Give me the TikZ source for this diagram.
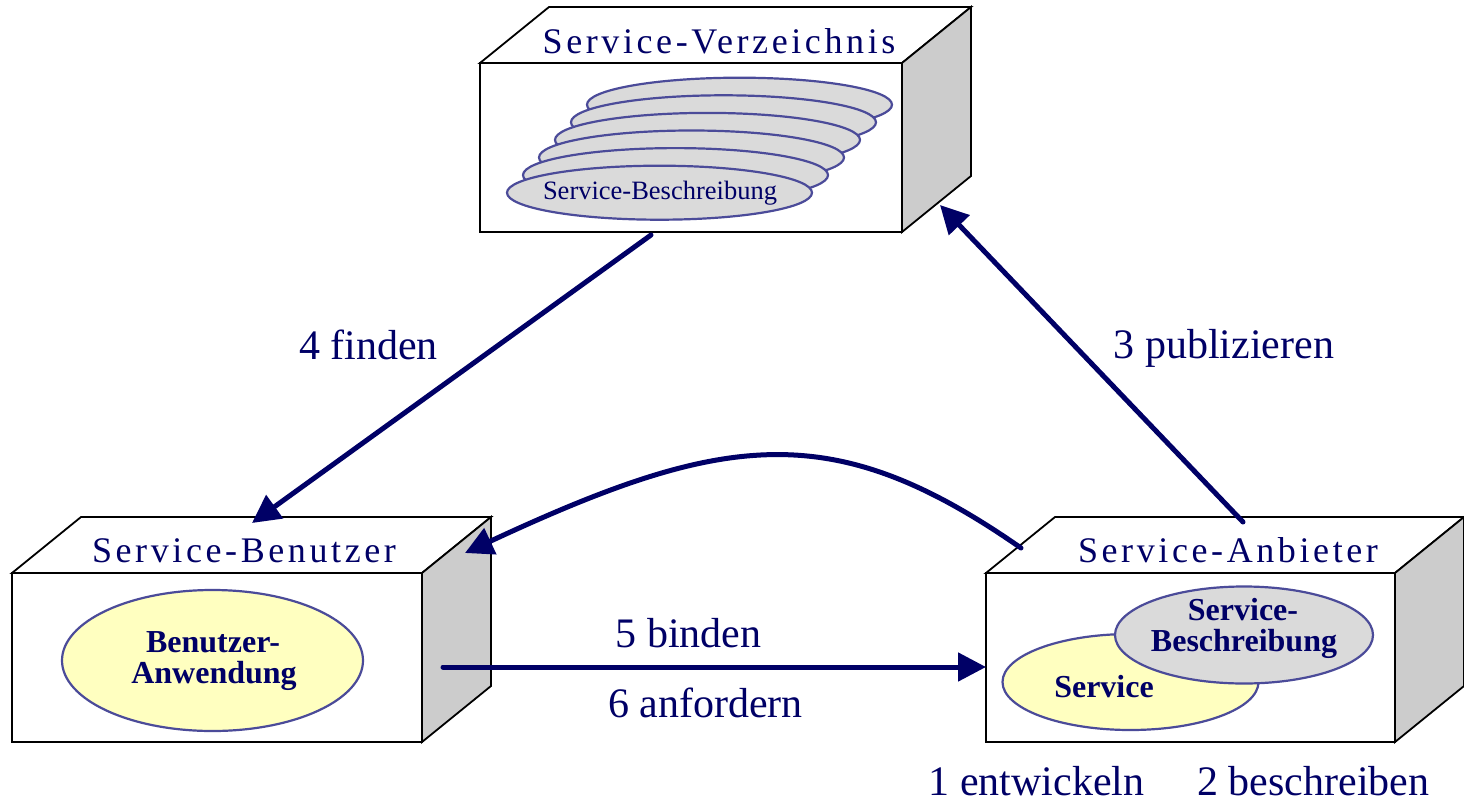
\documentclass[tikz,border=0pt]{standalone}
\usepackage{fontspec}
\setmainfont{Liberation Serif}
\newfontfamily\trackedfont[LetterSpace=10]{Liberation Serif}
\usetikzlibrary{shapes.geometric,arrows.meta,calc}

\definecolor{navy}{HTML}{000066}
\definecolor{rimblue}{HTML}{4B4B99}
\definecolor{discgray}{HTML}{DADADA}
\definecolor{sidegray}{HTML}{CCCCCC}
\definecolor{paleyellow}{HTML}{FFFFC0}

% top and right faces of a cuboid whose front face is node #1
\newcommand{\cuboidfaces}[1]{%
  \path (#1.north west) ++(69,-56) coordinate (#1-tl)
        (#1.north east) ++(69,-56) coordinate (#1-tr)
        (#1.south east) ++(69,-56) coordinate (#1-br);
  \draw[edge, fill=white] (#1.north west) -- (#1-tl) -- (#1-tr) -- (#1.north east) -- cycle;
  \draw[edge, fill=sidegray] (#1.north east) -- (#1-tr) -- (#1-br) -- (#1.south east) -- cycle;
}

\tikzset{
  edge/.style={draw=black, line width=1.8pt, line join=miter},
  front/.style={rectangle, edge, fill=white, inner sep=0pt, outer sep=0pt},
  title/.style={anchor=base, text=navy, inner sep=0pt, font=\fontsize{36}{40}\trackedfont},
  disc/.style={ellipse, draw=rimblue, line width=2.2pt, inner sep=0pt},
  inlabel/.style={anchor=base, text=navy, inner sep=0pt, font=\fontsize{32}{30}\selectfont\bfseries},
  steplabel/.style={anchor=base, text=navy, inner sep=0pt, font=\fontsize{42}{46}\selectfont},
  flow/.style={draw=navy, line width=5pt, line cap=round, -{Triangle[length=28pt,width=28pt]}},
}

\begin{document}
\begin{tikzpicture}[x=1pt, y=-1pt]
\useasboundingbox (0,0) rectangle (1464,803);

% ---- Service-Verzeichnis
\node[front, minimum width=422pt, minimum height=169pt] (verz) at (691,147.5) {};
\cuboidfaces{verz}
\node[title] (verzT) at (719,53) {Service-Verzeichnis};
\foreach \k in {0,...,5}
  \node[disc, fill=discgray, minimum width=305pt, minimum height=54pt] (disc\k)
    at ({739.5-16*\k},{104.7+17.6*\k}) {};
\node[anchor=base, inner sep=0pt, text=navy, font=\fontsize{26.5}{30}\selectfont]
  (discT) at (660,199.5) {Service-Beschreibung};

% ---- Service-Benutzer
\node[front, minimum width=410pt, minimum height=169pt] (ben) at (217,657.5) {};
\cuboidfaces{ben}
\node[title] (benT) at (244,562) {Service-Benutzer};
\node[disc, fill=paleyellow, minimum width=301pt, minimum height=141pt] (app) at (212.5,660.5) {};
\node[inlabel] (appA) at (213,652.7) {Benutzer-};
\node[inlabel] (appB) at (214,683.3) {Anwendung};

% ---- Service-Anbieter
\node[front, minimum width=409pt, minimum height=169pt] (anb) at (1190.5,657.5) {};
\cuboidfaces{anb}
\node[title] (anbT) at (1228,562) {Service-Anbieter};
\node[disc, fill=paleyellow, minimum width=256pt, minimum height=96pt] (srv) at (1130.5,682) {};
\node[disc, fill=discgray, minimum width=258pt, minimum height=97pt] (desc) at (1244,635) {};
\node[inlabel] (srvT) at (1104,697) {Service};
\node[inlabel] (descA) at (1243,620.5) {Service-};
\node[inlabel] (descB) at (1244,651) {Beschreibung};

% ---- connector ends
\coordinate (findS) at (651,235);
\coordinate (findE) at (252,523);
\coordinate (pubS)  at (1243,522);
\coordinate (pubE)  at (940,205);
\coordinate (retS)  at (1021,548);
\coordinate (retE)  at (465,553);
\coordinate (bindS) at (443,667);
\coordinate (bindE) at (986,667);

\draw[flow] (findS) -- (findE);
\draw[flow] (pubS) -- (pubE);
\draw[flow] (retS) .. controls (833,417) and (725,432) .. (retE);
\draw[flow] (bindS) -- (bindE);

% ---- step labels
\node[steplabel] (l4) at (368.5,359) {4 finden};
\node[steplabel] (l3) at (1224,358) {3 publizieren};
\node[steplabel] (l5) at (688.5,647) {5 binden};
\node[steplabel] (l6) at (705.5,717) {6 anfordern};
\node[steplabel] (l1) at (1036.5,795) {1 entwickeln};
\node[steplabel] (l2) at (1313.5,795) {2 beschreiben};
\end{tikzpicture}
\end{document}
